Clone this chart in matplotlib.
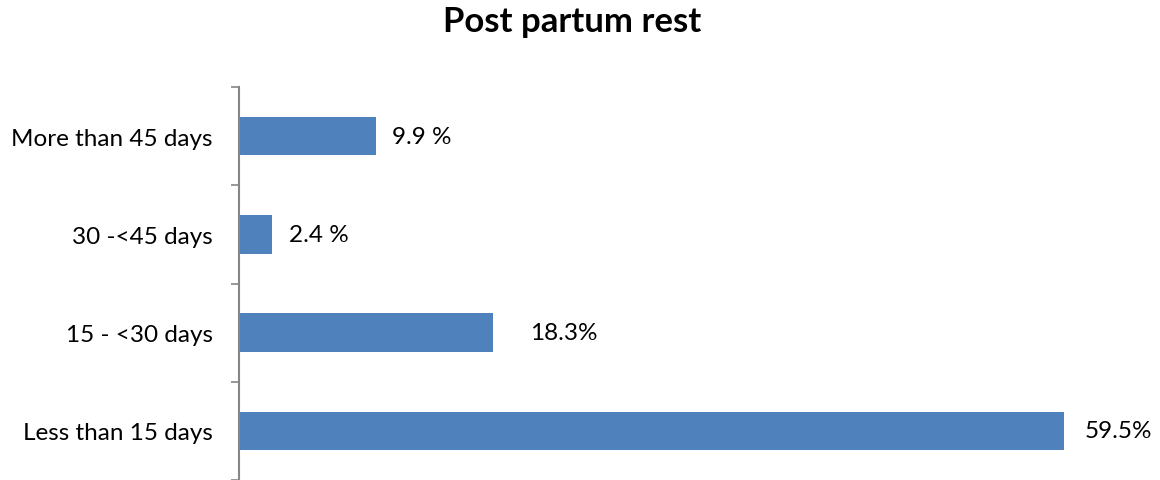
import matplotlib
matplotlib.use("Agg")
import matplotlib.pyplot as plt

# data, bottom to top as drawn
categories = ["Less than 15 days", "15 - <30 days", "30 -<45 days", "More than 45 days"]
values = [59.5, 18.3, 2.4, 9.9]
value_labels = ["59.5%", "18.3%", "2.4 %", "9.9 %"]
label_offsets = [15, 27, 12, 11]  # points right of bar end

plt.rcParams['font.family'] = ['Lato', 'DejaVu Sans']

fig = plt.figure(figsize=(11.6, 4.81), dpi=100)
ax = fig.add_axes([239 / 1160, 0.0, 1 - 239 / 1160, 1 - 88 / 481])

pos = list(range(len(categories)))
ax.barh(pos, values, height=0.39, color="#4F81BD")

for p, v, lab, off in zip(pos, values, value_labels, label_offsets):
    ax.annotate(lab, (v, p), xytext=(off, 0), textcoords="offset points",
                va="center", ha="left", fontsize=17.5, color="black")

ax.set_xlim(0, (1160 - 239) / 13.87)
ax.set_ylim(-0.5, len(categories) - 0.5)

ax.set_yticks(pos)
ax.set_yticklabels(categories, fontsize=17.5)
ax.tick_params(axis="y", which="major", length=0, pad=19)
ax.set_yticks([i - 0.5 for i in range(len(categories) + 1)], minor=True)
ax.tick_params(axis="y", which="minor", length=6, width=1.2, color="#868686", direction="out")
ax.set_xticks([])

for s in ["top", "right", "bottom"]:
    ax.spines[s].set_visible(False)
ax.spines["left"].set_color("#868686")
ax.spines["left"].set_linewidth(1.5)

fig.text(572 / 1160, 1 - 22 / 481, "Post partum rest", ha="center", va="center",
         fontsize=25, fontweight="bold")

fig.savefig("out.png", dpi=100)
